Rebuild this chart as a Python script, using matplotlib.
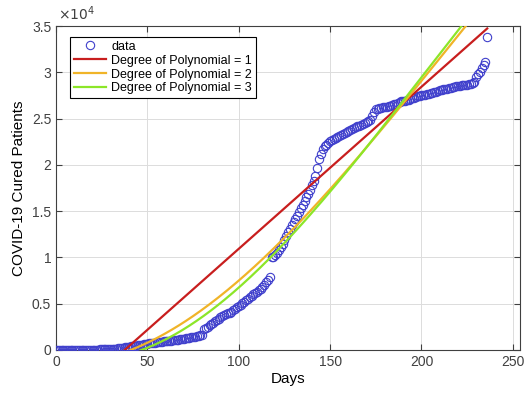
import matplotlib
matplotlib.use("Agg")
import matplotlib.pyplot as plt
import numpy as np

plt.rcParams['font.family'] = ['Liberation Sans', 'DejaVu Sans']

# cumulative cured patients, one value per day (day 0 .. 236)
cured = [
    0, 0, 0, 2, 2, 3, 3, 3, 5, 5,
    8, 10, 12, 14, 16, 20, 22, 25, 28, 30,
    35, 40, 45, 50, 55, 60, 70, 80, 90, 100,
    110, 125, 140, 160, 180, 200, 230, 260, 300, 330,
    360, 390, 420, 450, 480, 510, 540, 580, 620, 660,
    700, 720, 740, 760, 790, 820, 850, 870, 900, 920,
    940, 960, 980, 1000, 1030, 1060, 1090, 1120, 1150, 1200,
    1230, 1260, 1290, 1320, 1360, 1400, 1440, 1480, 1530, 1580,
    1650, 2250, 2350, 2500, 2650, 2800, 2950, 3100, 3250, 3400,
    3550, 3700, 3800, 3900, 3950, 4000, 4150, 4300, 4450, 4600,
    4750, 4900, 5050, 5200, 5400, 5550, 5700, 5850, 6000, 6150,
    6300, 6450, 6600, 6800, 7000, 7300, 7600, 7900, 10000, 10100,
    10300, 10500, 10800, 11100, 11500, 11900, 12300, 12700, 13100, 13500,
    13800, 14100, 14500, 14900, 15300, 15700, 16100, 16500, 16900, 17300,
    17800, 18300, 18800, 19700, 20600, 21200, 21700, 22000, 22200, 22400,
    22600, 22700, 22800, 22900, 23000, 23100, 23200, 23300, 23400, 23500,
    23650, 23750, 23850, 23950, 24050, 24150, 24250, 24350, 24450, 24550,
    24600, 24700, 24900, 25300, 25700, 26000, 26050, 26100, 26150, 26200,
    26250, 26300, 26350, 26400, 26450, 26550, 26600, 26700, 26750, 26850,
    26900, 26950, 27000, 27050, 27100, 27200, 27250, 27300, 27400, 27450,
    27500, 27550, 27600, 27650, 27700, 27750, 27800, 27850, 27900, 28000,
    28050, 28100, 28150, 28200, 28250, 28300, 28350, 28400, 28450, 28500,
    28530, 28560, 28590, 28620, 28650, 28680, 28700, 28750, 28850, 29000,
    29450, 29800, 30000, 30500, 30800, 31100, 33800,
]

# fitted curves (day, value)
fit1_days = [37, 131.5, 237]
fit1_vals = [0, 16260, 35000]
fit2_days = [39.5, 52, 79.5, 100.5, 115, 154.6, 191, 212, 224]
fit2_vals = [0, 900, 4000, 7950, 10100, 18430, 26800, 31980, 35000]
fit3_days = [44, 52, 79.5, 100.5, 115, 157, 188, 209.5, 222]
fit3_vals = [0, 360, 2900, 7000, 10100, 18430, 26370, 31980, 35000]

fit_labels = ['Degree of Polynomial = 1', 'Degree of Polynomial = 2',
              'Degree of Polynomial = 3']
fit_colors = ['#c81e1e', '#f0b428', '#8ce628']
x_ticks = [0, 50, 100, 150, 200, 250]
y_ticks = [0, 5000, 10000, 15000, 20000, 25000, 30000, 35000]
y_tick_labels = ['0', '0.5', '1', '1.5', '2', '2.5', '3', '3.5']

days = np.arange(len(cured))

fig = plt.figure(figsize=(5.31, 3.97), dpi=100)
ax = fig.add_axes([0.1055, 0.1184, 0.874, 0.816])

ax.plot(days, cured, 'o', mfc='none', mec=(0.25, 0.25, 0.8), ms=6, mew=0.8,
        label='data', zorder=3)

fits = [(fit1_days, fit1_vals, 1), (fit2_days, fit2_vals, 3),
        (fit3_days, fit3_vals, 3)]
for (fd, fv, deg), lab, col in zip(fits, fit_labels, fit_colors):
    coeffs = np.polyfit(fd, fv, deg)
    xs = np.linspace(fd[0], days[-1], 200)
    ax.plot(xs, np.polyval(coeffs, xs), color=col, lw=1.6, label=lab,
            zorder=4)

ax.set_xlim(0, 254)
ax.set_ylim(0, 35000)
ax.set_xticks(x_ticks)
ax.set_yticks(y_ticks)
ax.set_yticklabels(y_tick_labels)
ax.text(0.005, 1.008, r'$\times10^{4}$', transform=ax.transAxes,
        fontsize=10, color='#404040', ha='left', va='bottom')

ax.grid(True, color='#dcdcdc', lw=0.7)
ax.set_axisbelow(True)
ax.tick_params(direction='in', top=True, right=True, labelsize=10,
               colors='#404040', length=4)
for sp in ax.spines.values():
    sp.set_color('#404040')
    sp.set_linewidth(0.8)

ax.set_xlabel('Days', fontsize=11, labelpad=2)
ax.set_ylabel('COVID-19 Cured Patients', fontsize=11, labelpad=4)

leg = ax.legend(loc='upper left', bbox_to_anchor=(0.03, 0.966), fontsize=9,
                fancybox=False, edgecolor='black', framealpha=1,
                handlelength=2.6, handletextpad=0.4, borderpad=0.3,
                labelspacing=0.15, borderaxespad=0)
leg.get_frame().set_linewidth(0.8)

fig.savefig('out.png', dpi=100)
